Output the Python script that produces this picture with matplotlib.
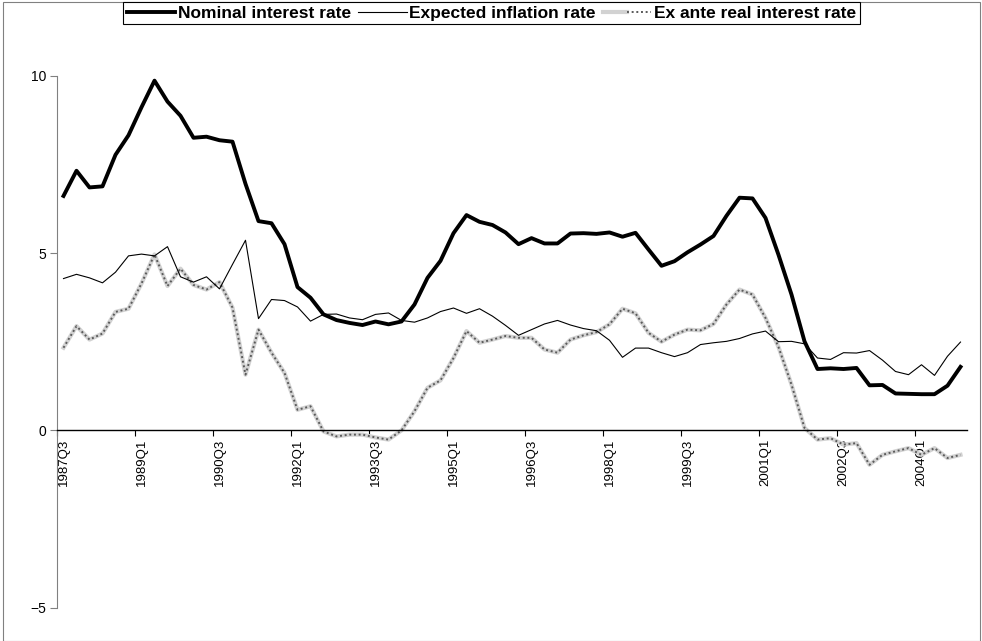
import matplotlib
matplotlib.use("Agg")
import matplotlib.pyplot as plt
from matplotlib.legend_handler import HandlerTuple
from matplotlib.patches import Rectangle

plt.rcParams['font.family'] = ['Liberation Sans', 'DejaVu Sans']

# Quarterly series, 1987Q3 - 2004Q4
quarters = [f"{y}Q{q}" for y in range(1987, 2005) for q in range(1, 5)][2:]

nominal = [6.61, 7.32, 6.85, 6.88, 7.77, 8.32, 9.11, 9.86, 9.27, 8.87,
           8.25, 8.28, 8.18, 8.14, 6.95, 5.90, 5.84, 5.25, 4.04, 3.74,
           3.27, 3.11, 3.03, 2.97, 3.07, 2.99, 3.07, 3.55, 4.30, 4.78,
           5.56, 6.07, 5.88, 5.79, 5.58, 5.25, 5.42, 5.27, 5.27, 5.55,
           5.56, 5.54, 5.58, 5.46, 5.57, 5.10, 4.64, 4.77, 5.02, 5.24,
           5.48, 6.05, 6.56, 6.54, 5.99, 4.95, 3.83, 2.51, 1.73, 1.75,
           1.73, 1.76, 1.27, 1.28, 1.04, 1.03, 1.02, 1.02, 1.26, 1.79]

expected = [4.28, 4.40, 4.30, 4.16, 4.46, 4.92, 4.97, 4.92, 5.18, 4.33,
            4.18, 4.33, 3.99, 4.68, 5.36, 3.15, 3.69, 3.66, 3.48, 3.08,
            3.27, 3.28, 3.17, 3.12, 3.27, 3.31, 3.10, 3.05, 3.17, 3.35,
            3.45, 3.30, 3.43, 3.22, 2.96, 2.68, 2.84, 3.00, 3.10, 2.97,
            2.87, 2.81, 2.54, 2.06, 2.32, 2.32, 2.19, 2.08, 2.19, 2.42,
            2.47, 2.51, 2.59, 2.72, 2.80, 2.50, 2.51, 2.44, 2.04, 2.00,
            2.19, 2.18, 2.25, 1.98, 1.66, 1.57, 1.85, 1.55, 2.09, 2.49]

real = [2.33, 2.94, 2.56, 2.73, 3.34, 3.43, 4.14, 4.96, 4.07, 4.56,
        4.10, 3.97, 4.18, 3.46, 1.57, 2.84, 2.19, 1.62, 0.58, 0.68,
        -0.03, -0.17, -0.12, -0.12, -0.20, -0.26, 0.00, 0.54, 1.20, 1.41,
        2.04, 2.80, 2.47, 2.56, 2.66, 2.61, 2.61, 2.28, 2.19, 2.56,
        2.68, 2.77, 2.99, 3.43, 3.30, 2.75, 2.50, 2.70, 2.84, 2.82,
        3.00, 3.55, 3.97, 3.83, 3.17, 2.35, 1.29, 0.07, -0.26, -0.22,
        -0.40, -0.36, -0.97, -0.69, -0.59, -0.50, -0.69, -0.50, -0.78, -0.69]

x = list(range(len(quarters)))

fig = plt.figure(figsize=(9.82, 6.41), dpi=100)
ax = fig.add_axes([57 / 982, 1 - 607.7 / 641, 910 / 982, 532 / 641])

ln_nom, = ax.plot(x, nominal, color='black', lw=2.8, solid_joinstyle='round', zorder=4)
ln_exp, = ax.plot(x, expected, color='black', lw=0.8, zorder=3)
ln_r1, = ax.plot(x, real, color='#d2d2d2', lw=3.0, zorder=2)
ln_r2, = ax.plot(x, real, color='#5a5a5a', lw=1.4, ls=(0, (1, 1.4)), zorder=2)

ax.set_xlim(-0.5, len(quarters) - 0.5)
ax.set_ylim(-5, 10)

ax.spines['top'].set_visible(False)
ax.spines['right'].set_visible(False)
ax.spines['left'].set_color('#808080')
ax.spines['bottom'].set_position(('data', 0))
ax.spines['bottom'].set_linewidth(1.0)

ax.set_yticks([-5, 0, 5, 10])
ax.tick_params(axis='y', length=5, width=0.8, color='#808080', labelsize=10, pad=3)

lab_pos = x[::6]
ax.set_xticks(lab_pos)
ax.set_xticklabels([quarters[i] for i in lab_pos], rotation=90, fontsize=9.5)
ax.set_xticks([p - 0.5 for p in lab_pos], minor=True)
ax.tick_params(axis='x', which='major', length=0, pad=6)
ax.tick_params(axis='x', which='minor', length=4, width=0.8, direction='out')

handles = [ln_nom, ln_exp, (ln_r1, ln_r2)]
labels = ['Nominal interest rate', 'Expected inflation rate', 'Ex ante real interest rate']
leg = fig.legend(handles, labels, loc='upper center', bbox_to_anchor=(491.5 / 982, 1 - 2 / 641),
                 ncol=3, frameon=True, fancybox=False, edgecolor='black', framealpha=1,
                 prop={'weight': 'bold', 'size': 12.5}, handlelength=2.8, handletextpad=0.15,
                 columnspacing=0.4, borderpad=0.2, borderaxespad=0,
                 handler_map={tuple: HandlerTuple(ndivide=None, pad=0)})
leg.get_frame().set_linewidth(0.8)

# outer chart border
fig.patches.append(Rectangle((3 / 982, 0.5 / 641), 977 / 982, 639 / 641, transform=fig.transFigure,
                             fill=False, edgecolor='#808080', lw=0.8))

fig.savefig('out.png', dpi=100)
